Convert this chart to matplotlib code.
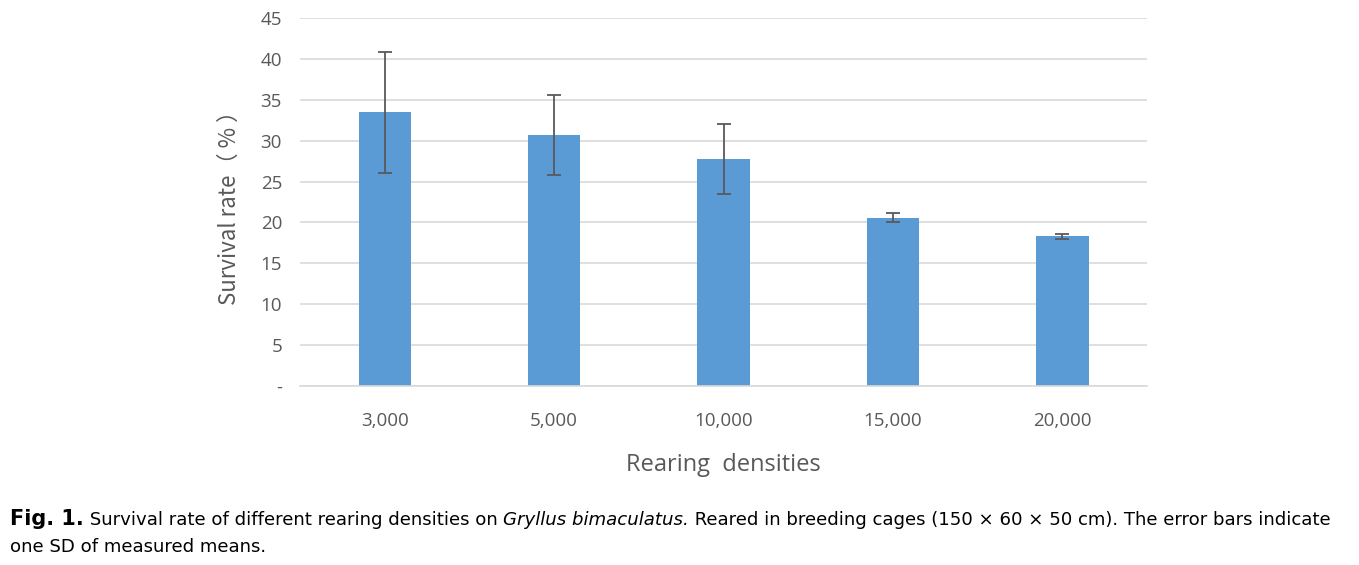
import matplotlib
matplotlib.use("Agg")
import matplotlib.pyplot as plt
import numpy as np

densities = ["3,000", "5,000", "10,000", "15,000", "20,000"]
survival = [33.5, 30.7, 27.8, 20.6, 18.3]
sd = [7.4, 4.9, 4.3, 0.5, 0.33]
yticks = [0, 5, 10, 15, 20, 25, 30, 35, 40, 45]
ytick_labels = ["-", "5", "10", "15", "20", "25", "30", "35", "40", "45"]

FONT = "Open Sans"
GREY = "#595959"


def main():
    fig = plt.figure(figsize=(13.59, 5.65), dpi=100)
    ax = fig.add_axes([0.2208, 0.3168, 0.6232, 0.6513])

    x = np.arange(len(densities))
    ax.bar(x, survival, width=0.31, color="#5B9BD5", zorder=2)
    ax.errorbar(x, survival, yerr=sd, fmt="none", ecolor=GREY,
                elinewidth=1.3, capsize=5, capthick=1.3, zorder=3)

    ax.set_xlim(-0.5, len(densities) - 0.5)
    ax.set_ylim(0, 45)
    ax.set_yticks(yticks)
    ax.set_yticklabels(ytick_labels, fontsize=13.5, color=GREY, family=FONT)
    ax.set_xticks(x)
    ax.set_xticklabels(densities, fontsize=13.5, color=GREY, family=FONT)
    ax.tick_params(length=0, pad=13, axis="y")
    ax.tick_params(length=0, pad=19, axis="x")
    ax.yaxis.grid(True, color="#d9d9d9", linewidth=1.2, zorder=0)
    ax.set_axisbelow(True)
    for s in ["top", "right", "left"]:
        ax.spines[s].set_visible(False)
    ax.spines["bottom"].set_color("#d9d9d9")
    ax.spines["bottom"].set_linewidth(1.2)

    ax.set_ylabel("Survival rate\uff08 % \uff09", fontsize=16, color=GREY,
                  family=["Noto Sans CJK SC", FONT], labelpad=14)
    ax.set_xlabel("Rearing  densities", fontsize=17, color=GREY,
                  family=FONT, labelpad=16)

    # caption, built piece by piece
    fig.canvas.draw()
    r = fig.canvas.get_renderer()
    pieces = [("Fig. 1.", "bold", "normal", 15),
              (" Survival rate of different rearing densities on ", "normal", "normal", 13.1),
              ("Gryllus bimaculatus.", "normal", "italic", 13.1),
              (" Reared in breeding cages (150\u00a0\u00d7\u00a060\u00a0\u00d7\u00a050 cm). The error bars indicate",
               "normal", "normal", 13.1)]
    xpos = 10 / 1359
    for txt, w, st, fs in pieces:
        t = fig.text(xpos, 1 - 525 / 565, txt, fontsize=fs, weight=w, style=st,
                     family="DejaVu Sans", color="black", va="baseline")
        bb = t.get_window_extent(renderer=r)
        xpos += bb.width / 1359
    fig.text(10 / 1359, 1 - 552 / 565, "one SD of measured means.", fontsize=13.1,
             family="DejaVu Sans", color="black", va="baseline")

    fig.savefig("out.png", dpi=100)


if __name__ == "__main__":
    main()
